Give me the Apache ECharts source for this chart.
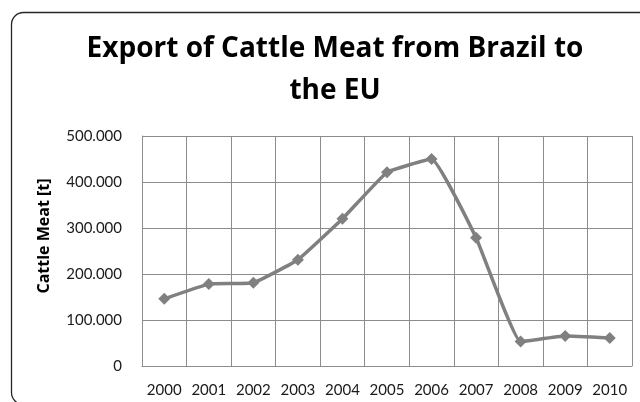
<!DOCTYPE html>
<html>
<head>
<meta charset="utf-8">
<script src="https://cdn.jsdelivr.net/npm/echarts@6/dist/echarts.min.js"></script>
<style>
  html, body { margin: 0; padding: 0; background: #fff; }
  #chart { width: 640px; height: 402px; }
</style>
</head>
<body>
<div id="chart"></div>
<script>
// Yearly export volume of cattle meat, Brazil -> EU, in tonnes
const years = ['2000', '2001', '2002', '2003', '2004', '2005', '2006', '2007', '2008', '2009', '2010'];
const exportTonnes = [146000, 178000, 181000, 231000, 320000, 421000, 450000, 279000, 53000, 65000, 61000];
const yTicks = { min: 0, max: 500000, interval: 100000 };

const gridColor = '#8c8c8c';
const lineColor = '#808080';
const font = 'Lato';
const boldFont = 'Open Sans';

// thousands separated with dots: 100000 -> "100.000"
function dotted(v) {
  return String(v).replace(/\B(?=(\d{3})+(?!\d))/g, '.');
}

const chart = echarts.init(document.getElementById('chart'));
chart.setOption({
  animation: false,
  backgroundColor: '#fff',
  textStyle: { fontFamily: font },
  graphic: [{
    type: 'rect',
    shape: { x: 11.5, y: 12.5, width: 700, height: 392, r: 12 },
    style: { fill: 'none', stroke: '#262626', lineWidth: 1.3 },
    z: -1
  }],
  title: {
    text: 'Export of Cattle Meat from Brazil to\nthe EU',
    left: 330,
    textAlign: 'center',
    top: 23,
    textStyle: {
      fontFamily: boldFont,
      fontWeight: 'bold',
      fontSize: 28,
      lineHeight: 42,
      color: '#000'
    }
  },
  grid: { left: 142, right: 8, top: 136, bottom: 36 },
  xAxis: {
    type: 'category',
    data: years,
    boundaryGap: true,
    axisLine: { lineStyle: { color: gridColor, width: 1 } },
    axisTick: { show: false },
    axisLabel: { color: '#1a1a1a', fontSize: 15, margin: 17, fontFamily: font, interval: 0 },
    splitLine: { show: true, interval: 0, lineStyle: { color: gridColor, width: 1 } }
  },
  yAxis: {
    type: 'value',
    min: yTicks.min,
    max: yTicks.max,
    interval: yTicks.interval,
    name: 'Cattle Meat [t]',
    nameLocation: 'middle',
    nameGap: 90,
    nameTextStyle: {
      fontFamily: boldFont,
      fontWeight: 'bold',
      fontSize: 16,
      color: '#000',
      padding: [0, 0, 0, 30]
    },
    axisLine: { show: true, lineStyle: { color: gridColor, width: 1 } },
    axisTick: { show: false },
    axisLabel: {
      color: '#1a1a1a',
      fontSize: 15,
      margin: 20,
      fontFamily: font,
      formatter: dotted
    },
    splitLine: { show: true, lineStyle: { color: gridColor, width: 1 } }
  },
  series: [{
    type: 'line',
    data: exportTonnes,
    smooth: 0.1,
    symbol: 'diamond',
    symbolSize: 12,
    lineStyle: { color: lineColor, width: 3.5 },
    itemStyle: { color: lineColor }
  }]
});
</script>
</body>
</html>
